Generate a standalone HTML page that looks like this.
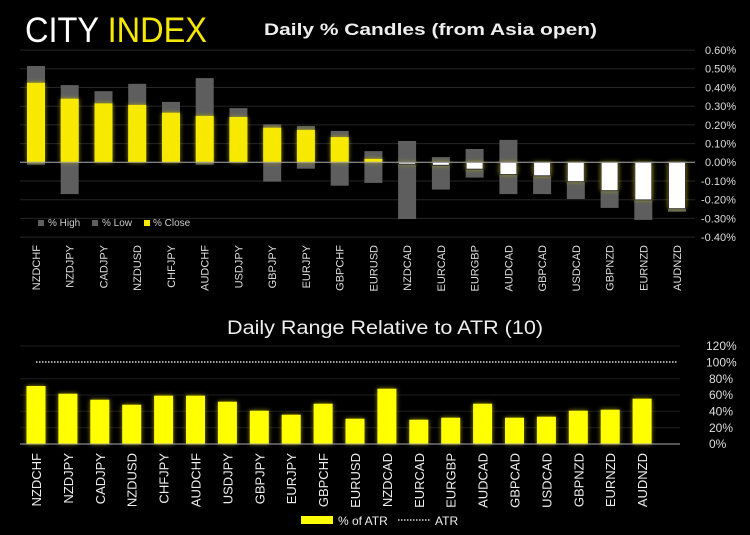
<!DOCTYPE html>
<html><head><meta charset="utf-8"><style>
html,body{margin:0;padding:0;background:#000;}
svg{display:block;font-family:"Liberation Sans",sans-serif;}
</style></head><body>
<svg width="750" height="535" viewBox="0 0 750 535" xmlns="http://www.w3.org/2000/svg">
<defs>
<filter id="g" x="-50%" y="-50%" width="200%" height="200%"><feGaussianBlur stdDeviation="2.5"/></filter>
</defs>
<rect width="750" height="535" fill="#000"/>
<text x="25" y="42" font-size="35" fill="#fff" textLength="182" lengthAdjust="spacingAndGlyphs">CITY <tspan fill="#f5e800">INDEX</tspan></text>
<text x="264" y="35" font-size="17" font-weight="bold" fill="#eee" textLength="333" lengthAdjust="spacingAndGlyphs">Daily % Candles (from Asia open)</text>
<g stroke="#262626" stroke-width="1">
<line x1="20" x2="695" y1="50.1" y2="50.1"/><line x1="20" x2="695" y1="68.8" y2="68.8"/><line x1="20" x2="695" y1="87.5" y2="87.5"/><line x1="20" x2="695" y1="106.2" y2="106.2"/><line x1="20" x2="695" y1="124.9" y2="124.9"/><line x1="20" x2="695" y1="143.6" y2="143.6"/><line x1="20" x2="695" y1="181" y2="181"/><line x1="20" x2="695" y1="199.7" y2="199.7"/><line x1="20" x2="695" y1="218.4" y2="218.4"/><line x1="20" x2="695" y1="237.1" y2="237.1"/>
</g>
<g font-size="11" fill="#ddd">
<text x="705" y="54">0.60%</text><text x="705" y="72.7">0.50%</text><text x="705" y="91.4">0.40%</text><text x="705" y="110.1">0.30%</text><text x="705" y="128.8">0.20%</text><text x="705" y="147.5">0.10%</text><text x="705" y="166.2">0.00%</text><text x="701" y="184.9">-0.10%</text><text x="701" y="203.6">-0.20%</text><text x="701" y="222.3">-0.30%</text><text x="701" y="241">-0.40%</text>
</g>
<!-- gray ranges -->
<g fill="#5e5e5e">
<rect x="27" y="66" width="18" height="98.7"/>
<rect x="60.7" y="85.1" width="18" height="109"/>
<rect x="94.5" y="91.2" width="18" height="71.1"/>
<rect x="128.2" y="83.8" width="18" height="78.5"/>
<rect x="162" y="101.9" width="18" height="60.4"/>
<rect x="195.7" y="78.1" width="18" height="86.6"/>
<rect x="229.4" y="108.1" width="18" height="54.2"/>
<rect x="263.2" y="124.3" width="18" height="57.4"/>
<rect x="296.9" y="126" width="18" height="42.7"/>
<rect x="330.7" y="130.9" width="18" height="54.8"/>
<rect x="364.4" y="151.1" width="18" height="31.8"/>
<rect x="398.1" y="141" width="18" height="78"/>
<rect x="431.9" y="157.1" width="18" height="32.5"/>
<rect x="465.6" y="149" width="18" height="28.6"/>
<rect x="499.4" y="139.9" width="18" height="54.2"/>
<rect x="533.1" y="162.3" width="18" height="31.8"/>
<rect x="566.8" y="162.3" width="18" height="36.7"/>
<rect x="600.6" y="162.3" width="18" height="45.6"/>
<rect x="634.3" y="162.3" width="18" height="57.6"/>
<rect x="668" y="162.3" width="18" height="49.4"/>
</g>
<!-- glows -->
<g fill="#c8c000" opacity="0.75" filter="url(#g)">
<rect x="27" y="82.8" width="18" height="79.5"/>
<rect x="60.7" y="98.7" width="18" height="63.6"/>
<rect x="94.5" y="103.4" width="18" height="58.9"/>
<rect x="128.2" y="104.9" width="18" height="57.4"/>
<rect x="162" y="112.7" width="18" height="49.6"/>
<rect x="195.7" y="115.9" width="18" height="46.4"/>
<rect x="229.4" y="117" width="18" height="45.3"/>
<rect x="263.2" y="127.7" width="18" height="34.6"/>
<rect x="296.9" y="129.9" width="18" height="32.4"/>
<rect x="330.7" y="137.1" width="18" height="25.2"/>
<rect x="364.4" y="158.9" width="18" height="3.4"/>
<rect x="398.1" y="162.3" width="18" height="2"/>
<rect x="431.9" y="162.3" width="18" height="3"/>
<rect x="465.6" y="162.3" width="18" height="7"/>
<rect x="499.4" y="162.3" width="18" height="12.3"/>
<rect x="533.1" y="162.3" width="18" height="13.5"/>
<rect x="566.8" y="162.3" width="18" height="19.4"/>
<rect x="600.6" y="162.3" width="18" height="28.4"/>
<rect x="634.3" y="162.3" width="18" height="37.6"/>
<rect x="668" y="162.3" width="18" height="46.4"/>
</g>
<g fill="#f7ea00">
<rect x="27" y="82.8" width="18" height="79.5"/>
<rect x="60.7" y="98.7" width="18" height="63.6"/>
<rect x="94.5" y="103.4" width="18" height="58.9"/>
<rect x="128.2" y="104.9" width="18" height="57.4"/>
<rect x="162" y="112.7" width="18" height="49.6"/>
<rect x="195.7" y="115.9" width="18" height="46.4"/>
<rect x="229.4" y="117" width="18" height="45.3"/>
<rect x="263.2" y="127.7" width="18" height="34.6"/>
<rect x="296.9" y="129.9" width="18" height="32.4"/>
<rect x="330.7" y="137.1" width="18" height="25.2"/>
<rect x="364.4" y="158.9" width="18" height="3.4"/>
</g>
<g fill="#fff" stroke="#333" stroke-width="1">
<rect x="398.6" y="162.3" width="17" height="1.9"/>
<rect x="432.4" y="162.3" width="17" height="3"/>
<rect x="466.1" y="162.3" width="17" height="6.9"/>
<rect x="499.9" y="162.3" width="17" height="12.3"/>
<rect x="533.6" y="162.3" width="17" height="13.5"/>
<rect x="567.3" y="162.3" width="17" height="19.4"/>
<rect x="601.1" y="162.3" width="17" height="28.4"/>
<rect x="634.8" y="162.3" width="17" height="37.6"/>
<rect x="668.5" y="162.3" width="17" height="46.4"/>
</g>
<line x1="20" x2="695" y1="162.3" y2="162.3" stroke="#aaa" stroke-width="1"/>
<!-- legend -->
<rect x="38" y="220" width="6" height="6" fill="#5e5e5e"/><text x="48" y="226" font-size="10" fill="#ccc">% High</text>
<rect x="92" y="220" width="6" height="6" fill="#5e5e5e"/><text x="102" y="226" font-size="10" fill="#ccc">% Low</text>
<rect x="144" y="220" width="6" height="6" fill="#f7ea00"/><text x="153" y="226" font-size="10" fill="#ccc">% Close</text>
<!-- top x labels -->
<g font-size="11" fill="#ddd" text-anchor="end">
<text transform="translate(40,245) rotate(-90)">NZDCHF</text>
<text transform="translate(73.7,245) rotate(-90)">NZDJPY</text>
<text transform="translate(107.5,245) rotate(-90)">CADJPY</text>
<text transform="translate(141.2,245) rotate(-90)">NZDUSD</text>
<text transform="translate(175,245) rotate(-90)">CHFJPY</text>
<text transform="translate(208.7,245) rotate(-90)">AUDCHF</text>
<text transform="translate(242.4,245) rotate(-90)">USDJPY</text>
<text transform="translate(276.2,245) rotate(-90)">GBPJPY</text>
<text transform="translate(309.9,245) rotate(-90)">EURJPY</text>
<text transform="translate(343.7,245) rotate(-90)">GBPCHF</text>
<text transform="translate(377.4,245) rotate(-90)">EURUSD</text>
<text transform="translate(411.1,245) rotate(-90)">NZDCAD</text>
<text transform="translate(444.9,245) rotate(-90)">EURCAD</text>
<text transform="translate(478.6,245) rotate(-90)">EURGBP</text>
<text transform="translate(512.4,245) rotate(-90)">AUDCAD</text>
<text transform="translate(546.1,245) rotate(-90)">GBPCAD</text>
<text transform="translate(579.8,245) rotate(-90)">USDCAD</text>
<text transform="translate(613.6,245) rotate(-90)">GBPNZD</text>
<text transform="translate(647.3,245) rotate(-90)">EURNZD</text>
<text transform="translate(681,245) rotate(-90)">AUDNZD</text>
</g>

<!-- bottom chart -->
<text x="385" y="334" font-size="19" fill="#eee" text-anchor="middle" textLength="316" lengthAdjust="spacingAndGlyphs">Daily Range Relative to ATR (10)</text>
<g stroke="#1e1e1e" stroke-width="1">
<line x1="20" x2="680" y1="346" y2="346"/><line x1="20" x2="680" y1="378.7" y2="378.7"/><line x1="20" x2="680" y1="395" y2="395"/><line x1="20" x2="680" y1="411.3" y2="411.3"/><line x1="20" x2="680" y1="427.7" y2="427.7"/>
</g>
<g font-size="12" fill="#ddd">
<text x="706" y="350">120%</text><text x="706" y="366.5">100%</text><text x="709" y="383">80%</text><text x="709" y="399">60%</text><text x="709" y="415.5">40%</text><text x="709" y="432">20%</text><text x="709" y="448">0%</text>
</g>
<line x1="36" x2="677" y1="362" y2="362" stroke="#ddd" stroke-width="1.5" stroke-dasharray="1.5,1.5"/>
<g fill="#c8c000" opacity="0.75" filter="url(#g)">
<rect x="26.5" y="386" width="19" height="58"/>
<rect x="58.4" y="393.7" width="19" height="50.3"/>
<rect x="90.3" y="399.7" width="19" height="44.3"/>
<rect x="122.2" y="404.7" width="19" height="39.3"/>
<rect x="154.1" y="395.7" width="19" height="48.3"/>
<rect x="186" y="395.7" width="19" height="48.3"/>
<rect x="217.9" y="401.7" width="19" height="42.3"/>
<rect x="249.8" y="410.7" width="19" height="33.3"/>
<rect x="281.7" y="414.7" width="19" height="29.3"/>
<rect x="313.6" y="403.7" width="19" height="40.3"/>
<rect x="345.5" y="418.7" width="19" height="25.3"/>
<rect x="377.4" y="388.7" width="19" height="55.3"/>
<rect x="409.3" y="419.7" width="19" height="24.3"/>
<rect x="441.2" y="417.7" width="19" height="26.3"/>
<rect x="473.1" y="403.7" width="19" height="40.3"/>
<rect x="505" y="417.7" width="19" height="26.3"/>
<rect x="536.9" y="416.7" width="19" height="27.3"/>
<rect x="568.8" y="410.7" width="19" height="33.3"/>
<rect x="600.7" y="409.7" width="19" height="34.3"/>
<rect x="632.6" y="398.7" width="19" height="45.3"/>
</g>
<g fill="#ffff00">
<rect x="26.5" y="386" width="19" height="58"/>
<rect x="58.4" y="393.7" width="19" height="50.3"/>
<rect x="90.3" y="399.7" width="19" height="44.3"/>
<rect x="122.2" y="404.7" width="19" height="39.3"/>
<rect x="154.1" y="395.7" width="19" height="48.3"/>
<rect x="186" y="395.7" width="19" height="48.3"/>
<rect x="217.9" y="401.7" width="19" height="42.3"/>
<rect x="249.8" y="410.7" width="19" height="33.3"/>
<rect x="281.7" y="414.7" width="19" height="29.3"/>
<rect x="313.6" y="403.7" width="19" height="40.3"/>
<rect x="345.5" y="418.7" width="19" height="25.3"/>
<rect x="377.4" y="388.7" width="19" height="55.3"/>
<rect x="409.3" y="419.7" width="19" height="24.3"/>
<rect x="441.2" y="417.7" width="19" height="26.3"/>
<rect x="473.1" y="403.7" width="19" height="40.3"/>
<rect x="505" y="417.7" width="19" height="26.3"/>
<rect x="536.9" y="416.7" width="19" height="27.3"/>
<rect x="568.8" y="410.7" width="19" height="33.3"/>
<rect x="600.7" y="409.7" width="19" height="34.3"/>
<rect x="632.6" y="398.7" width="19" height="45.3"/>
</g>
<line x1="20" x2="680" y1="444" y2="444" stroke="#aaa" stroke-width="1"/>
<g font-size="13" fill="#eee" text-anchor="end">
<text transform="translate(41,453) rotate(-90)">NZDCHF</text>
<text transform="translate(72.9,453) rotate(-90)">NZDJPY</text>
<text transform="translate(104.8,453) rotate(-90)">CADJPY</text>
<text transform="translate(136.7,453) rotate(-90)">NZDUSD</text>
<text transform="translate(168.6,453) rotate(-90)">CHFJPY</text>
<text transform="translate(200.5,453) rotate(-90)">AUDCHF</text>
<text transform="translate(232.4,453) rotate(-90)">USDJPY</text>
<text transform="translate(264.3,453) rotate(-90)">GBPJPY</text>
<text transform="translate(296.2,453) rotate(-90)">EURJPY</text>
<text transform="translate(328.1,453) rotate(-90)">GBPCHF</text>
<text transform="translate(360,453) rotate(-90)">EURUSD</text>
<text transform="translate(391.9,453) rotate(-90)">NZDCAD</text>
<text transform="translate(423.8,453) rotate(-90)">EURCAD</text>
<text transform="translate(455.7,453) rotate(-90)">EURGBP</text>
<text transform="translate(487.6,453) rotate(-90)">AUDCAD</text>
<text transform="translate(519.5,453) rotate(-90)">GBPCAD</text>
<text transform="translate(551.4,453) rotate(-90)">USDCAD</text>
<text transform="translate(583.3,453) rotate(-90)">GBPNZD</text>
<text transform="translate(615.2,453) rotate(-90)">EURNZD</text>
<text transform="translate(647.1,453) rotate(-90)">AUDNZD</text>
</g>
<rect x="301" y="516" width="32" height="8" fill="#ffff00"/>
<text x="338" y="525" font-size="12" fill="#eee">% of ATR</text>
<line x1="398" x2="430" y1="520" y2="520" stroke="#ddd" stroke-width="1.5" stroke-dasharray="1.5,1.5"/>
<text x="435" y="525" font-size="12" fill="#eee">ATR</text>
</svg>
</body></html>
